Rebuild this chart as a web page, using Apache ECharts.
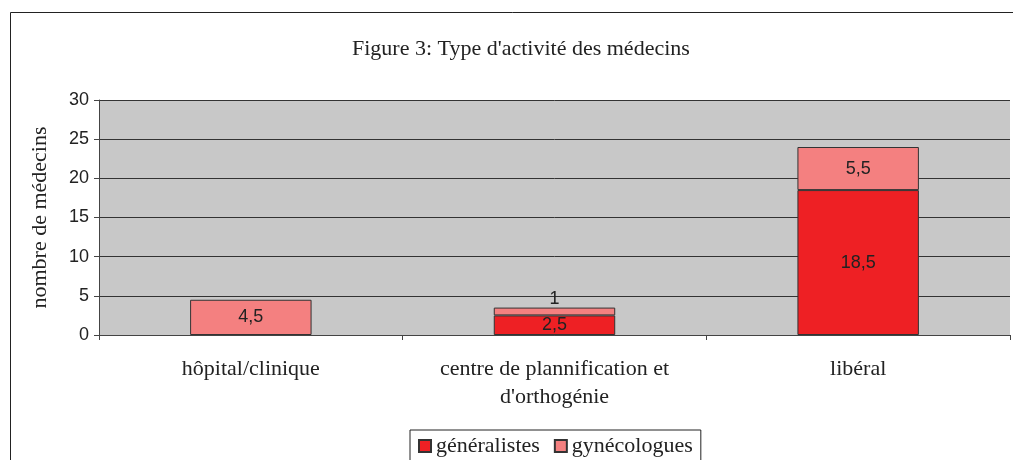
<!DOCTYPE html>
<html><head><meta charset="utf-8">
<script src="https://cdn.jsdelivr.net/npm/echarts@6/dist/echarts.min.js"></script>
<style>html,body{margin:0;padding:0;background:#fff}#c{width:1013px;height:460px}</style>
</head><body><div id="c"></div>
<script>
const categories = ["hôpital/clinique", "centre de plannification et\nd'orthogénie", "libéral"];
const generalistes = [null, 2.5, 18.5];
const gynecologues = [4.5, 1, 5.5];
const yTicks = {min: 0, max: 30, interval: 5};
const title = "Figure 3: Type d'activité des médecins";
const yName = "nombre de médecins";

const chart = echarts.init(document.getElementById('c'), null, {renderer: 'canvas'});
const serif = '"Liberation Serif", "DejaVu Serif", serif';
const sans = '"Liberation Sans", Arial, sans-serif';
const labelBase = {show: true, fontFamily: sans, fontSize: 18, color: '#222',
  formatter: p => String(p.value).replace('.', ',')};
function mk(arr) {
  return arr.map(v => (v !== null && v < 2)
    ? {value: v, label: {position: 'top', distance: 0}}
    : v);
}
chart.setOption({
  animation: false,
  backgroundColor: '#fff',
  title: {text: title, left: 347, top: 33,
    textStyle: {fontFamily: serif, fontSize: 22, fontWeight: 'normal', color: '#222'}},
  graphic: [{type: 'rect', shape: {x: 10.5, y: 12.5, width: 1100, height: 600},
    style: {fill: null, stroke: '#222', lineWidth: 1}, z: -1}],
  legend: {top: 430, left: 410, itemWidth: 12, itemHeight: 12, itemGap: 14,
    padding: [5, 8, 10, 8], borderColor: '#222', borderWidth: 1,
    textStyle: {fontFamily: serif, fontSize: 22, color: '#222'},
    data: [{name: 'généralistes', icon: 'rect'}, {name: 'gynécologues', icon: 'rect'}]},
  grid: {left: 99, right: 3, top: 100, bottom: 125, show: true,
    backgroundColor: '#c8c8c8', borderWidth: 0},
  xAxis: {type: 'category', data: categories,
    axisLine: {lineStyle: {color: '#444', width: 1}},
    axisTick: {show: true, length: 5, lineStyle: {color: '#444'}},
    axisLabel: {fontFamily: serif, fontSize: 22, color: '#222', margin: 20, lineHeight: 28}},
  yAxis: {type: 'value', min: yTicks.min, max: yTicks.max, interval: yTicks.interval,
    name: yName, nameLocation: 'middle', nameGap: 48,
    nameTextStyle: {fontFamily: serif, fontSize: 22, color: '#222'},
    axisLine: {show: true, lineStyle: {color: '#444'}},
    axisTick: {show: true, length: 5, lineStyle: {color: '#444'}},
    axisLabel: {fontFamily: sans, fontSize: 18, color: '#222', margin: 10},
    splitLine: {lineStyle: {color: '#333', width: 1}}},
  series: [
    {name: 'généralistes', type: 'bar', stack: 's', barWidth: '40%', data: mk(generalistes),
     itemStyle: {color: '#ee2024', borderColor: '#333', borderWidth: 1},
     label: Object.assign({position: 'inside'}, labelBase)},
    {name: 'gynécologues', type: 'bar', stack: 's', barWidth: '40%', data: mk(gynecologues),
     itemStyle: {color: '#f48080', borderColor: '#333', borderWidth: 1},
     label: Object.assign({position: 'inside'}, labelBase)}
  ]
});
</script></body></html>
